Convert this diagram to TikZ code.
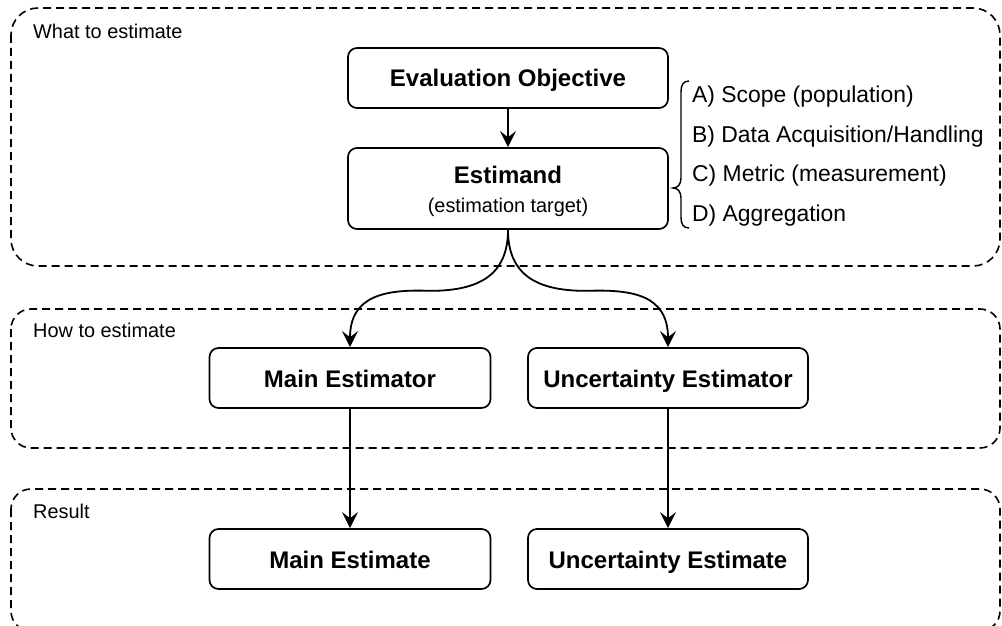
\documentclass[tikz,border=0pt]{standalone}
\usepackage{fontspec}
\setmainfont{Liberation Sans}
\usetikzlibrary{arrows.meta,calc}
\begin{document}
\begin{tikzpicture}[x=1pt,y=-1pt,
  box/.style={draw, line width=1.7pt, rounded corners=9pt, minimum width=280pt, minimum height=60pt, inner sep=0pt, font=\fontsize{24}{28}\selectfont\bfseries},
  one/.style={text height=18pt, text depth=0pt},
  grp/.style={draw, line width=1.6pt, dash pattern=on 8pt off 5pt},
  lbl/.style={anchor=west, inner sep=0pt, text height=14.2pt, text depth=0pt, font=\fontsize{19.9}{24}\selectfont},
  item/.style={anchor=west, inner sep=0pt, text height=16.4pt, text depth=0pt, font=\fontsize{22.9}{27}\selectfont},
  arr/.style={line width=1.8pt, -{Stealth[length=16pt,width=16pt,inset=6pt]}}
]
\useasboundingbox (0,0) rectangle (1002,626);
% groups
\draw[grp, rounded corners=27pt] (11,8) rectangle (1000,266);
\draw[grp, rounded corners=20pt] (11,309) rectangle (1000,448);
\draw[grp, rounded corners=20pt] (11,489) rectangle (1000,631);
\node[lbl] (g1) at (33,31) {What to estimate};
\node[lbl] (g2) at (33,330) {How to estimate};
\node[lbl] (g3) at (33,511) {Result};
% boxes
\node[box, one, minimum width=320pt] (eo) at (508,78) {Evaluation Objective};
\node[box, minimum width=320pt, minimum height=81pt, align=center] (est) at (508,188.5) {\rule{0pt}{22.5pt}Estimand\\[1pt]{\fontsize{19.9}{24}\selectfont\mdseries (estimation target)}};
\node[box, one, minimum width=281pt] (me) at (350,378) {Main Estimator};
\node[box, one, minimum width=280pt] (ue) at (668,378) {Uncertainty Estimator};
\node[box, one, minimum width=281pt] (mr) at (350,559) {Main Estimate};
\node[box, one, minimum width=280pt] (ur) at (668,559) {Uncertainty Estimate};
% list
\node[item] (la) at (692,94.5) {A) Scope (population)};
\node[item] (lb) at (692,134) {B) Data Acquisition/Handling};
\node[item] (lc) at (692,173.5) {C) Metric (measurement)};
\node[item] (ld) at (692,213) {D) Aggregation};
% brace
\draw[line width=1.4pt] (689,81) .. controls (683,81) and (681,85) .. (681,92) -- (681,178)
  .. controls (681,184) and (678,188) .. (673,188)
  .. controls (678,188) and (681,192) .. (681,198) -- (681,217)
  .. controls (681,224) and (683,228) .. (689,228);
% connectors
\draw[arr] (eo) -- (est);
\draw[arr] (est.south) .. controls ($(est.south)+(0,46)$) and ($(est.south)+(-30,61)$) .. ($(est.south)+(-78,61)$)
  .. controls ($(me.north)+(36,-58)$) and ($(me.north)+(0,-52)$) .. (me.north);
\draw[arr] (est.south) .. controls ($(est.south)+(0,46)$) and ($(est.south)+(30,61)$) .. ($(est.south)+(78,61)$)
  .. controls ($(ue.north)+(-35,-58)$) and ($(ue.north)+(0,-52)$) .. (ue.north);
\draw[arr] (me) -- (mr);
\draw[arr] (ue) -- (ur);
\end{tikzpicture}
\end{document}
